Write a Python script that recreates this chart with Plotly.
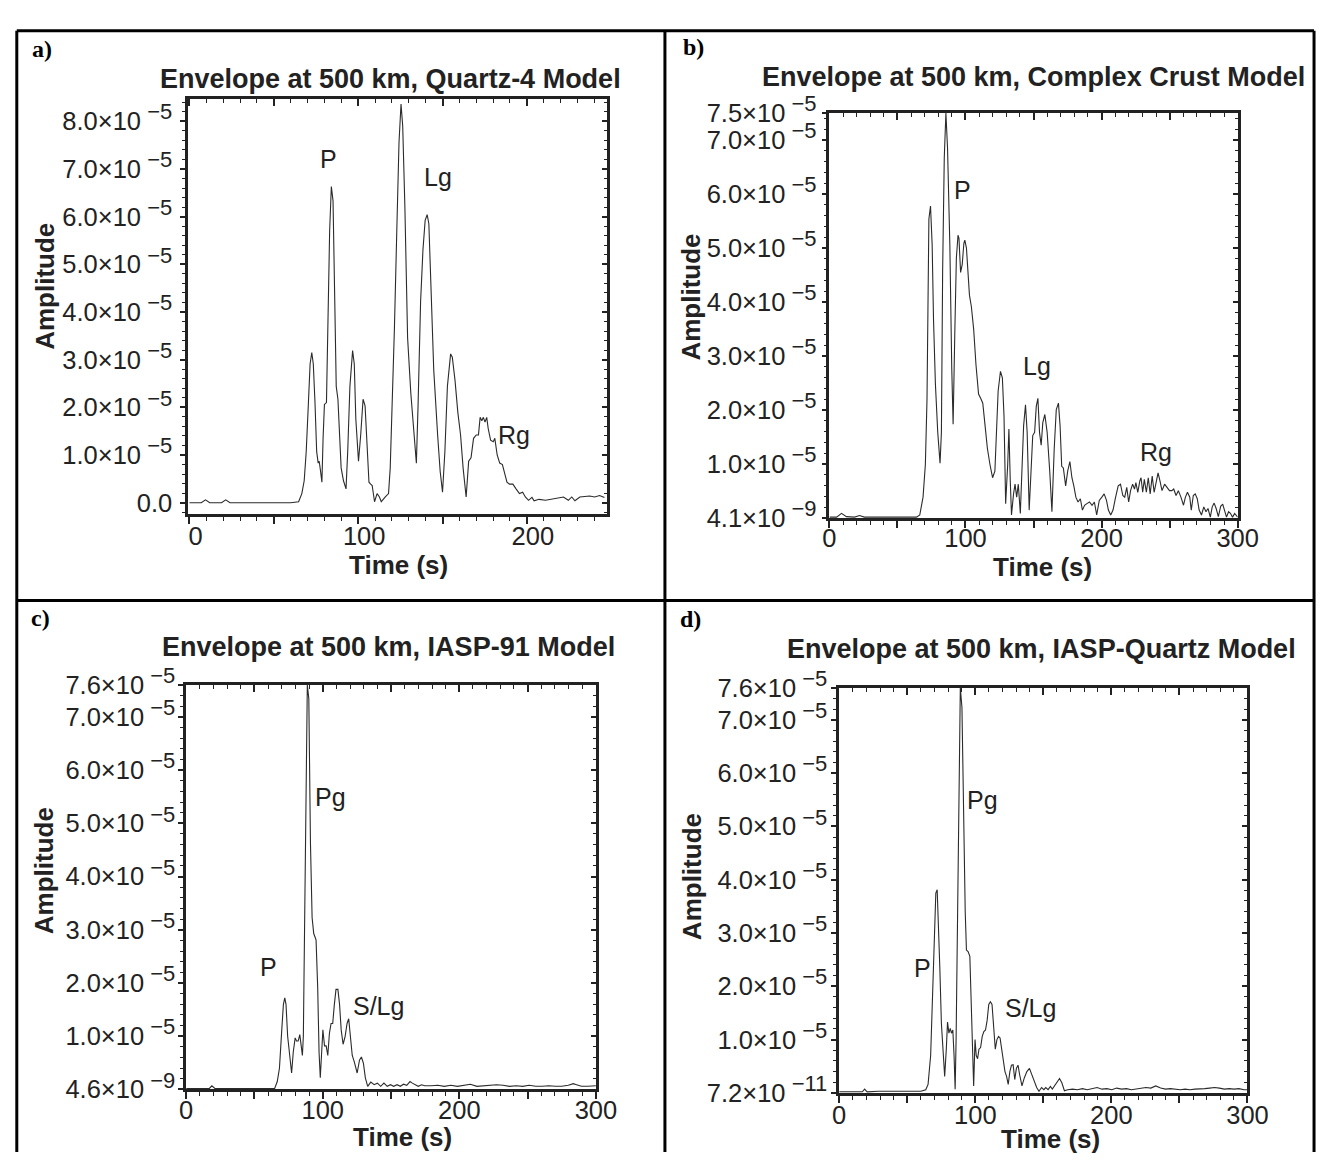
import plotly.graph_objects as go

W, H = 1337, 1166
FONT = "Liberation Sans, Arial, sans-serif"
INK = "#222222"

# ---------------- data (time in s, amplitude in units of 1e-5) ----------------
a_time = [0, 7, 9.5, 12, 19, 21.5, 24, 59.9,
          64.7, 66.6, 68.0, 69.2, 70.5, 71.5, 72.5, 73.4, 74.4, 75.4,
          76.3, 76.9, 77.7, 78.5, 79.2, 80.0, 81.2, 82.1, 83.1, 84.1,
          85.1, 86.0, 87.0, 88.0, 88.9, 89.9, 91.3, 92.8, 93.8, 95.1,
          96.7, 97.7, 98.6, 99.6, 100.2, 101.5, 102.9, 104.1, 105.4, 106.4,
          107.4, 108.3, 109.7, 111.2, 112.6, 113.7, 116.1, 118.0, 119.0, 120.3,
          121.5, 122.9, 124.2, 125.4, 126.4, 127.7, 129.3, 131.2, 133.0, 134.5,
          135.5, 137.0, 138.4, 139.7, 140.9, 141.9, 143.2, 144.8, 147.1, 148.6,
          150.0, 151.4, 152.9, 154.8, 155.8, 157.4, 159.1, 160.7, 162.2, 164.0,
          165.5, 166.9, 168.4, 170.0, 171.3, 172.3, 173.3, 174.2, 175.2, 176.2,
          177.1, 178.5, 180.1, 181.0, 182.4, 183.9, 185.5, 186.8, 188.2, 189.7,
          191.7, 193.6, 195.6, 197.5, 199.1, 201.0, 203.0, 204.3, 207.2, 211.1,
          215.0, 218.8, 221.7, 224.6, 226.6, 228.5, 231.4, 234.3, 237.2, 240.2,
          243.1, 246.0]
a_amp = [0.0, 0.0, 0.06, 0.0, 0.0, 0.06, 0.0, 0.0,
         0.02, 0.19, 0.46, 1.07, 2.09, 2.91, 3.15, 2.91, 2.10, 1.07,
         0.83, 0.87, 0.66, 0.43, 1.35, 2.06, 2.10, 3.80, 5.71, 6.63,
         6.33, 4.48, 2.44, 2.17, 1.42, 0.73, 0.46, 0.29, 1.07, 2.44,
         3.19, 2.91, 1.76, 1.00, 0.87, 1.42, 2.17, 2.03, 1.07, 0.43,
         0.39, 0.36, 0.02, 0.19, 0.12, 0.02, 0.12, 0.19, 0.73, 2.09,
         3.67, 5.71, 7.55, 8.36, 7.90, 6.19, 3.46, 2.30, 1.41, 0.83,
         2.03, 4.21, 5.30, 5.92, 6.04, 5.85, 4.48, 2.78, 1.42, 0.66,
         0.22, 1.07, 2.44, 3.12, 3.05, 2.57, 1.89, 1.42, 0.73, 0.12,
         0.87, 0.94, 1.35, 1.42, 1.42, 1.79, 1.72, 1.79, 1.69, 1.79,
         1.55, 1.31, 1.28, 1.35, 1.00, 0.83, 0.80, 0.60, 0.43, 0.39,
         0.39, 0.29, 0.19, 0.22, 0.12, 0.05, 0.11, 0.04, 0.07, 0.05,
         0.08, 0.11, 0.12, 0.05, 0.12, 0.04, 0.12, 0.13, 0.14, 0.12,
         0.15, 0.11]

b_time = [0, 5.3, 8.9, 12.5, 18.5, 22.1, 25.7, 47.2, 64.0, 66.4,
          68.8, 70.5, 71.7, 72.4, 73.1, 74.3, 75.5, 76.5, 77.9, 79.6,
          81.3, 82.3, 83.2, 84.4, 85.6, 86.8, 88.5, 89.9, 90.9, 92.1,
          93.3, 94.5, 95.2, 96.4, 97.6, 98.8, 99.5, 100.7, 101.9, 102.9,
          104.3, 106.0, 107.7, 109.6, 111.3, 112.7, 114.4, 116.1, 118.0, 119.9,
          121.6, 122.8, 124.0, 125.7, 127.1, 128.3, 129.5, 131.0, 131.9, 132.9,
          133.8, 135.3, 136.4, 137.6, 138.8, 140.3, 141.5, 142.7, 144.1, 145.3,
          146.8, 148.0, 149.4, 150.8, 152.0, 153.2, 154.4, 155.6, 156.8, 158.3,
          160.0, 161.9, 163.5, 165.2, 166.7, 168.3, 169.5, 170.7, 171.9, 173.6,
          175.1, 176.7, 178.2, 179.6, 181.1, 182.7, 184.4, 185.9, 187.5, 189.2,
          191.1, 193.0, 194.7, 196.4, 198.3, 200.2, 201.9, 203.6, 205.0, 206.7,
          208.4, 210.3, 212.2, 213.9, 215.6, 217.0, 218.5, 219.9, 221.3, 222.8,
          224.2, 225.2, 226.6, 228.1, 229.0, 230.2, 231.4, 232.9, 234.3, 235.7,
          237.2, 238.6, 240.0, 241.5, 242.9, 244.4, 246.3, 248.0, 249.9, 251.6,
          253.0, 254.7, 256.4, 258.3, 260.2, 261.6, 263.1, 264.8, 265.9, 267.4,
          268.8, 270.3, 271.7, 273.4, 275.1, 276.7, 278.2, 279.9, 281.3, 282.7,
          284.2, 285.8, 287.5, 289.0, 290.4, 291.8, 293.3, 294.7, 296.2, 297.8,
          300.0]
b_amp = [0.02, 0.02, 0.09, 0.03, 0.02, 0.05, 0.02, 0.02, 0.02, 0.06,
         0.39, 0.99, 2.19, 3.86, 5.54, 5.78, 5.06, 3.68, 2.48, 1.59,
         1.02, 1.59, 4.58, 6.67, 7.50, 6.85, 5.06, 2.78, 1.74, 3.38,
         4.82, 5.24, 5.18, 4.55, 4.70, 5.09, 5.15, 5.00, 4.40, 4.13,
         3.92, 3.50, 2.84, 2.30, 2.21, 2.13, 1.71, 1.29, 0.99, 0.75,
         0.87, 1.59, 2.36, 2.72, 2.60, 1.89, 0.27, 0.99, 1.65, 0.69,
         0.06, 0.45, 0.63, 0.39, 0.63, 0.09, 0.99, 1.71, 2.10, 1.59,
         0.15, 0.81, 1.53, 1.59, 2.07, 2.22, 1.59, 1.35, 1.77, 1.92,
         1.59, 0.87, 0.12, 1.29, 2.01, 2.13, 1.71, 0.96, 0.93, 0.60,
         0.87, 1.05, 0.75, 0.60, 0.39, 0.30, 0.36, 0.15, 0.24, 0.27,
         0.30, 0.24, 0.30, 0.06, 0.33, 0.39, 0.45, 0.33, 0.15, 0.06,
         0.15, 0.39, 0.60, 0.63, 0.42, 0.39, 0.57, 0.30, 0.51, 0.63,
         0.54, 0.66, 0.48, 0.69, 0.75, 0.48, 0.72, 0.48, 0.75, 0.45,
         0.78, 0.48, 0.69, 0.84, 0.69, 0.51, 0.63, 0.57, 0.51, 0.51,
         0.54, 0.42, 0.51, 0.39, 0.24, 0.39, 0.48, 0.39, 0.15, 0.42,
         0.45, 0.36, 0.15, 0.06, 0.21, 0.12, 0.18, 0.02, 0.21, 0.28,
         0.18, 0.03, 0.22, 0.26, 0.12, 0.02, 0.12, 0.09, 0.02, 0.09,
         0.02]

c_time = [0, 17, 18.8, 21, 55.2, 64.8, 66.7, 68.3, 70.0, 71.2,
          72.2, 73.1, 74.3, 75.8, 77.2, 78.4, 79.8, 80.8, 82.0, 83.2,
          83.9, 85.1, 85.8, 86.7, 87.7, 88.7, 89.8, 91.0, 92.2, 93.4,
          95.1, 96.3, 97.3, 98.2, 99.2, 100.1, 101.3, 102.5, 103.7, 104.9,
          106.1, 107.3, 108.5, 109.7, 111.1, 112.3, 113.5, 114.9, 116.4, 117.8,
          119.0, 120.2, 121.6, 123.1, 125.2, 126.9, 128.3, 129.8, 131.2, 132.9,
          135.2, 137.6, 140.0, 142.4, 144.8, 147.2, 149.6, 152.0, 154.4, 156.8,
          159.1, 161.5, 163.9, 165.6, 167.5, 169.9, 172.3, 174.7, 179.5, 184.2,
          189.0, 193.8, 198.6, 203.4, 208.1, 212.9, 217.7, 222.5, 227.2, 232.0,
          236.8, 241.6, 246.4, 251.1, 255.9, 260.7, 265.5, 270.3, 275.0, 279.8,
          283.4, 285.8, 289.4, 294.1, 298.5, 300.0]
c_amp = [0.02, 0.02, 0.07, 0.02, 0.02, 0.02, 0.15, 0.40, 1.12, 1.60,
         1.72, 1.60, 1.00, 0.58, 0.31, 0.70, 0.97, 0.91, 0.91, 1.03,
         0.88, 0.64, 1.00, 2.81, 5.83, 7.60, 7.34, 4.63, 3.23, 2.93,
         2.81, 1.91, 0.70, 0.22, 0.70, 1.12, 0.82, 0.82, 0.64, 1.06,
         1.24, 1.24, 1.60, 1.88, 1.88, 1.60, 1.12, 0.85, 1.00, 1.24,
         1.33, 1.00, 0.64, 0.52, 0.31, 0.55, 0.61, 0.49, 0.22, 0.06,
         0.14, 0.09, 0.12, 0.06, 0.12, 0.06, 0.09, 0.06, 0.09, 0.06,
         0.10, 0.08, 0.15, 0.12, 0.09, 0.06, 0.09, 0.07, 0.07, 0.08,
         0.06, 0.08, 0.06, 0.08, 0.10, 0.06, 0.07, 0.08, 0.09, 0.08,
         0.06, 0.07, 0.06, 0.08, 0.06, 0.06, 0.07, 0.06, 0.06, 0.08,
         0.11, 0.09, 0.06, 0.06, 0.07, 0.07]

d_time = [0, 17, 18.7, 20.5, 28.8, 60.0, 63.6, 65.3, 67.2, 68.8,
          70.0, 71.0, 72.0, 72.9, 73.9, 75.1, 76.3, 77.5, 78.7, 79.6,
          80.6, 81.6, 82.5, 83.5, 84.4, 85.2, 85.9, 86.8, 88.0, 89.0,
          90.2, 91.4, 92.6, 93.5, 94.7, 96.0, 97.1, 98.1, 98.8, 99.8,
          100.7, 101.7, 102.7, 103.9, 105.1, 106.3, 107.5, 108.7, 109.9, 111.1,
          112.3, 113.5, 114.7, 115.9, 117.1, 118.2, 119.4, 120.6, 121.8, 123.0,
          124.2, 125.4, 126.6, 127.8, 129.0, 130.2, 131.4, 132.6, 134.3, 136.0,
          137.9, 139.8, 141.5, 143.4, 145.1, 146.8, 148.7, 150.4, 151.8, 153.5,
          155.2, 156.6, 158.3, 160.2, 161.9, 163.6, 165.5, 167.9, 171.5, 175.1,
          178.7, 182.3, 185.9, 189.5, 193.1, 196.7, 200.3, 203.9, 207.5, 211.1,
          214.7, 218.2, 221.8, 225.4, 229.0, 232.6, 236.2, 239.8, 243.4, 247.0,
          250.6, 254.2, 257.8, 261.4, 265.0, 268.6, 272.2, 275.8, 279.4, 283.0,
          286.6, 290.2, 293.8, 297.4, 300.0]
d_amp = [0.02, 0.02, 0.07, 0.02, 0.03, 0.03, 0.06, 0.16, 0.70, 1.90,
         3.10, 3.75, 3.81, 3.28, 2.38, 1.30, 0.70, 0.31, 0.82, 1.33,
         1.12, 1.21, 1.12, 1.18, 0.70, 0.07, 1.00, 2.80, 5.79, 7.60,
         7.23, 5.19, 3.40, 2.68, 2.65, 2.56, 1.60, 0.40, 0.13, 1.00,
         0.70, 0.64, 0.82, 0.85, 1.06, 1.15, 1.18, 1.36, 1.66, 1.71,
         1.66, 1.24, 0.82, 1.00, 1.06, 1.03, 0.82, 0.64, 0.40, 0.31,
         0.16, 0.40, 0.52, 0.53, 0.25, 0.46, 0.52, 0.34, 0.13, 0.28,
         0.40, 0.46, 0.34, 0.19, 0.10, 0.03, 0.10, 0.06, 0.10, 0.06,
         0.12, 0.07, 0.13, 0.21, 0.27, 0.19, 0.04, 0.06, 0.07, 0.06,
         0.08, 0.06, 0.08, 0.10, 0.07, 0.08, 0.06, 0.09, 0.07, 0.08,
         0.06, 0.07, 0.09, 0.10, 0.09, 0.13, 0.09, 0.07, 0.08, 0.07,
         0.06, 0.07, 0.06, 0.07, 0.07, 0.08, 0.09, 0.10, 0.09, 0.07,
         0.08, 0.07, 0.08, 0.06, 0.06]

# tick values / labels
x_tickvals = [0, 50, 100, 150, 200, 250, 300]
x_ticktext = ["0", "", "100", "", "200", "", "300"]


def sci(mant, exp):
    return f"{mant}×10<sup><span style='font-size:22px'> \u2212{exp}</span></sup>"


a_ytickvals = [0, 1e-5, 2e-5, 3e-5, 4e-5, 5e-5, 6e-5, 7e-5, 8e-5]
a_yticktext = ["0.0"] + [sci(f"{k}.0", 5) for k in range(1, 9)]
b_ytickvals = [4.1e-9, 1e-5, 2e-5, 3e-5, 4e-5, 5e-5, 6e-5, 7e-5, 7.5e-5]
b_yticktext = [sci("4.1", 9)] + [sci(f"{k}.0", 5) for k in range(1, 8)] + [sci("7.5", 5)]
c_ytickvals = [4.6e-9, 1e-5, 2e-5, 3e-5, 4e-5, 5e-5, 6e-5, 7e-5, 7.6e-5]
c_yticktext = [sci("4.6", 9)] + [sci(f"{k}.0", 5) for k in range(1, 8)] + [sci("7.6", 5)]
d_ytickvals = [7.2e-11, 1e-5, 2e-5, 3e-5, 4e-5, 5e-5, 6e-5, 7e-5, 7.6e-5]
d_yticktext = [sci("7.2", 11)] + [sci(f"{k}.0", 5) for k in range(1, 8)] + [sci("7.6", 5)]

titles = ["Envelope at 500 km, Quartz-4 Model",
          "Envelope at 500 km, Complex Crust Model",
          "Envelope at 500 km, IASP-91 Model",
          "Envelope at 500 km, IASP-Quartz Model"]
panel_tags = ["a)", "b)", "c)", "d)"]

# phase labels (text, time, amplitude in 1e-5)
a_phases = [("P", 82.2, 7.2), ("Lg", 147.6, 6.84), ("Rg", 192.1, 1.42)]
b_phases = [("P", 97.6, 6.07), ("Lg", 152.8, 2.81), ("Rg", 239.8, 1.23)]
c_phases = [("P", 60.4, 2.3), ("Pg", 105.4, 5.5), ("S/Lg", 140.7, 1.57)]
d_phases = [("P", 61.2, 2.35), ("Pg", 105.5, 5.49), ("S/Lg", 140.3, 1.6)]

# ---------------- layout geometry (pixels) ----------------
panels = [
    dict(t=a_time, amp=a_amp, yv=a_ytickvals, yt=a_yticktext, ph=a_phases,
         xpx=(185, 613), ypx=(79, 508), xr=(-0.8, 247.6), yr=(-0.244e-5, 8.476e-5),
         shift=6, ystand=3, xstand=-10, title=(392, 59), tag=(36, 28), amp_lab=(38, 273), time_lab=(400, 560)),
    dict(t=b_time, amp=b_amp, yv=b_ytickvals, yt=b_yticktext, ph=b_phases,
         xpx=(840, 1257), ypx=(94, 512), xr=(0, 300), yr=(4.1e-9, 7.5e-5),
         shift=0, ystand=0, xstand=-12, title=(1048, 57), tag=(701, 26), amp_lab=(699, 284), time_lab=(1058, 562)),
    dict(t=c_time, amp=c_amp, yv=c_ytickvals, yt=c_yticktext, ph=c_phases,
         xpx=(183, 601.5), ypx=(684, 1101.5), xr=(0, 300), yr=(4.6e-9, 7.6e-5),
         shift=0, ystand=-2, xstand=-11, title=(390, 645), tag=(34, 615), amp_lab=(38, 876), time_lab=(404, 1151)),
    dict(t=d_time, amp=d_amp, yv=d_ytickvals, yt=d_yticktext, ph=d_phases,
         xpx=(850, 1267), ypx=(687, 1105), xr=(0, 300), yr=(7.2e-11, 7.6e-5),
         shift=0, ystand=-1, xstand=-9, title=(1057, 647), tag=(698, 616), amp_lab=(699, 882), time_lab=(1066, 1153)),
]


def px(x):
    return x / W


def py(y):
    return 1 - y / H


fig = go.Figure()
layout = dict(width=W, height=H, margin=dict(l=0, r=0, t=0, b=0, pad=0),
              paper_bgcolor="white", plot_bgcolor="white", showlegend=False)
annotations = []
shapes = []

tickfont = dict(family=FONT, size=25.5, color=INK)

for i, p in enumerate(panels, start=1):
    xname = "xaxis" if i == 1 else f"xaxis{i}"
    yname = "yaxis" if i == 1 else f"yaxis{i}"
    xref = "x" if i == 1 else f"x{i}"
    yref = "y" if i == 1 else f"y{i}"
    j = i + 4
    xdom = [px(p["xpx"][0]), px(p["xpx"][1])]
    ydom = [py(p["ypx"][1]), py(p["ypx"][0])]

    fig.add_trace(go.Scatter(x=p["t"], y=[v * 1e-5 for v in p["amp"]],
                             xaxis=xref, yaxis=yref, mode="lines",
                             line=dict(color="#2b2b2b", width=1.1),
                             hoverinfo="skip", cliponaxis=True))
    fig.add_trace(go.Scatter(x=[None], y=[None], xaxis=f"x{j}", yaxis=f"y{j}",
                             mode="lines", hoverinfo="skip"))

    layout[xname] = dict(domain=xdom, anchor=yref, range=list(p["xr"]),
                         tickmode="array", tickvals=x_tickvals, ticktext=x_ticktext,
                         ticks="outside", ticklen=7, tickwidth=1.5, tickcolor=INK,
                         minor=dict(ticks="outside", dtick=10, tick0=0, ticklen=4,
                                    tickwidth=1, tickcolor=INK),
                         showline=True, linewidth=2.5, linecolor=INK, mirror=True,
                         showgrid=False, zeroline=False, tickfont=tickfont,
                         ticklabelshift=p["shift"], ticklabelstandoff=p["xstand"], fixedrange=True)
    layout[yname] = dict(domain=ydom, anchor=xref, range=list(p["yr"]),
                         tickmode="array", tickvals=p["yv"], ticktext=p["yt"],
                         ticks="outside", ticklen=5, tickwidth=1.5, tickcolor=INK,
                         minor=dict(ticks="outside", dtick=0.2e-5, tick0=0, ticklen=3,
                                    tickwidth=1, tickcolor=INK),
                         showline=True, linewidth=2.5, linecolor=INK, mirror=True,
                         showgrid=False, zeroline=False, tickfont=tickfont,
                         ticklabelstandoff=p["ystand"], fixedrange=True)
    layout[f"xaxis{j}"] = dict(overlaying=xref, side="top", anchor=yref, range=list(p["xr"]),
                               tickmode="array", tickvals=x_tickvals,
                               ticks="inside", ticklen=7, tickwidth=1.5, tickcolor=INK,
                               minor=dict(ticks="inside", dtick=10, tick0=0, ticklen=4,
                                          tickwidth=1, tickcolor=INK),
                               showticklabels=False, showline=False, showgrid=False,
                               zeroline=False, fixedrange=True)
    layout[f"yaxis{j}"] = dict(overlaying=yref, side="right", anchor=xref, range=list(p["yr"]),
                               tickmode="array", tickvals=p["yv"],
                               ticks="inside", ticklen=5, tickwidth=1.5, tickcolor=INK,
                               minor=dict(ticks="inside", dtick=0.2e-5, tick0=0, ticklen=3,
                                          tickwidth=1, tickcolor=INK),
                               showticklabels=False, showline=False, showgrid=False,
                               zeroline=False, fixedrange=True)

    # phase labels in data coordinates
    for txt, tx, ty in p["ph"]:
        annotations.append(dict(text=txt, x=tx, y=ty * 1e-5, xref=xref, yref=yref,
                                showarrow=False, xanchor="center", yanchor="middle",
                                font=dict(family=FONT, size=25, color=INK)))
    # title
    annotations.append(dict(text=f"<b>{titles[i-1]}</b>", x=px(p["title"][0]), y=py(p["title"][1]),
                            xref="paper", yref="paper", showarrow=False,
                            xanchor="center", yanchor="middle",
                            font=dict(family=FONT, size=27, color=INK)))
    # panel tag
    annotations.append(dict(text=f"<b>{panel_tags[i-1]}</b>", x=px(p["tag"][0]), y=py(p["tag"][1]),
                            xref="paper", yref="paper", showarrow=False,
                            xanchor="center", yanchor="middle",
                            font=dict(family="Liberation Serif, Times New Roman, serif", size=24, color="black")))
    # axis titles
    annotations.append(dict(text="<b>Amplitude</b>", x=px(p["amp_lab"][0]), y=py(p["amp_lab"][1]),
                            xref="paper", yref="paper", showarrow=False, textangle=-90,
                            xanchor="center", yanchor="middle",
                            font=dict(family=FONT, size=26, color=INK)))
    annotations.append(dict(text="<b>Time (s)</b>", x=px(p["time_lab"][0]), y=py(p["time_lab"][1]),
                            xref="paper", yref="paper", showarrow=False,
                            xanchor="center", yanchor="middle",
                            font=dict(family=FONT, size=26, color=INK)))

# table frame lines
line_style = dict(color="black", width=3)
for xv in (10, 672, 1335):
    shapes.append(dict(type="line", xref="paper", yref="paper",
                       x0=px(xv), x1=px(xv), y0=py(9), y1=py(1166), line=line_style))
for yv in (9, 597):
    shapes.append(dict(type="line", xref="paper", yref="paper",
                       x0=px(10), x1=px(1335), y0=py(yv), y1=py(yv), line=line_style))

layout["annotations"] = annotations
layout["shapes"] = shapes
fig.update_layout(**layout)

fig.write_html("out.html")
